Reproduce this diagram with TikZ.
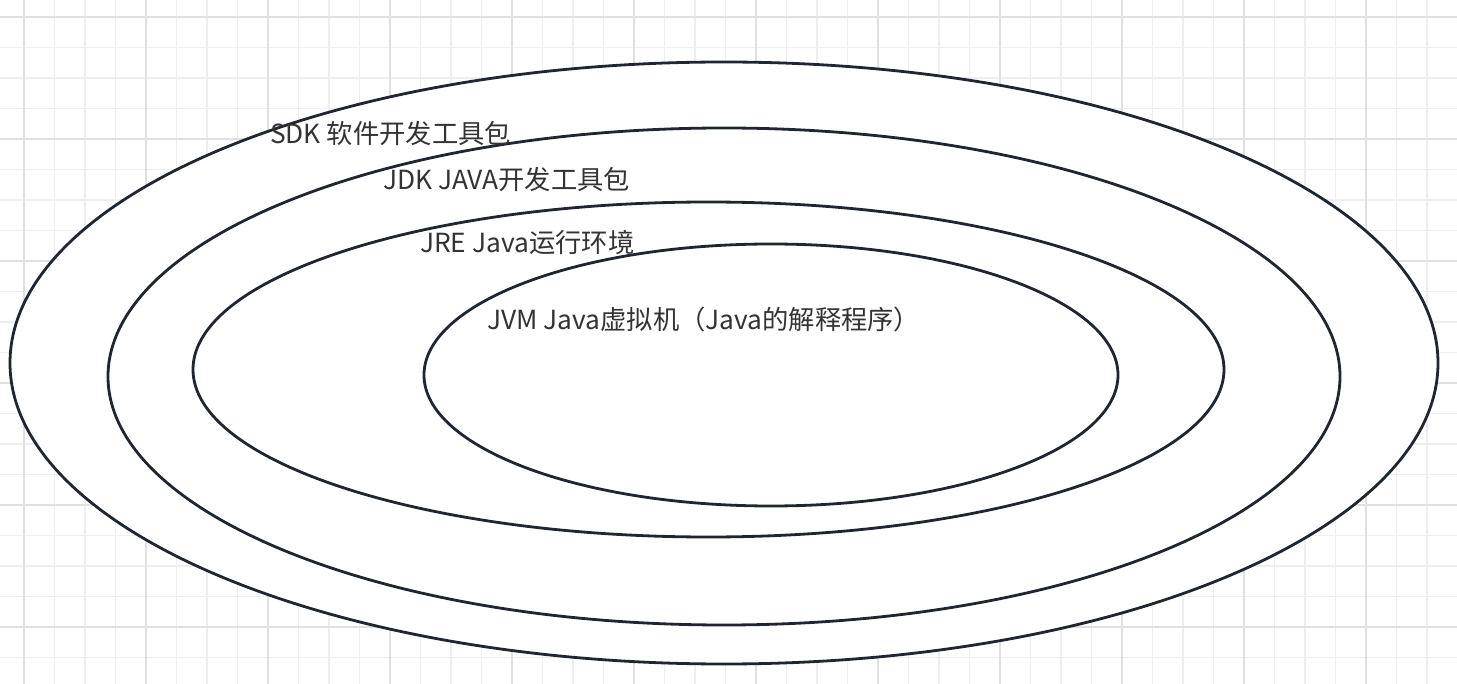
\documentclass[tikz,border=0pt]{standalone}
\usepackage{fontspec}
\setmainfont{Noto Sans CJK SC}
\usetikzlibrary{shapes.geometric}
\definecolor{gridminor}{HTML}{EEEEEE}
\definecolor{gridmajor}{HTML}{E0E0E0}
\definecolor{edge}{HTML}{1F2630}
\definecolor{txt}{HTML}{333333}
\tikzset{
  ring/.style={ellipse, draw=edge, line width=2.8pt, inner sep=0pt, fill=none},
  label/.style={anchor=west, inner sep=0pt, text=txt, font=\fontsize{26.3}{30}\selectfont},
}
\begin{document}
\begin{tikzpicture}[x=1pt,y=-1pt]
\useasboundingbox (0,0) rectangle (1457,684);
\fill[white] (0,0) rectangle (1457,684);
% grid
\foreach \i in {0,...,48} {
  \pgfmathsetmacro{\gx}{-6.5+30.5*\i}
  \draw[gridminor, line width=1.3pt] (\gx,0) -- (\gx,684);
}
\foreach \i in {0,...,23} {
  \pgfmathsetmacro{\gy}{-13.5+30.5*\i}
  \draw[gridminor, line width=1.3pt] (0,\gy) -- (1457,\gy);
}
\foreach \i in {0,...,12} {
  \pgfmathsetmacro{\gx}{24+122*\i}
  \draw[gridmajor, line width=1.4pt] (\gx,0) -- (\gx,684);
}
\foreach \i in {0,...,5} {
  \pgfmathsetmacro{\gy}{17+122*\i}
  \draw[gridmajor, line width=1.4pt] (0,\gy) -- (1457,\gy);
}
% rings
\node[ring, fill=white, minimum width=1428pt, minimum height=602pt] (sdk) at (724,363) {};
\node[ring, minimum width=1232pt, minimum height=497pt] (jdk) at (724,376.5) {};
\node[ring, minimum width=1031pt, minimum height=335pt] (jre) at (708.5,369.5) {};
\node[ring, minimum width=694pt, minimum height=262pt] (jvm) at (771,375) {};
% labels
\node[label] (tsdk) at (270,133) {SDK 软件开发工具包};
\node[label] (tjdk) at (383,179) {JDK JAVA开发工具包};
\node[label] (tjre) at (420,242) {JRE Java运行环境};
\node[label] (tjvm) at (487,320) {JVM Java虚拟机（Java的解释程序）};
\end{tikzpicture}
\end{document}
